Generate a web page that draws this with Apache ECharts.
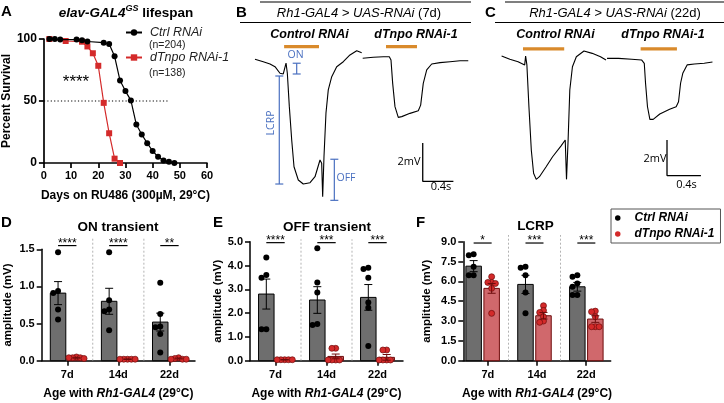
<!DOCTYPE html>
<html>
<head>
<meta charset="utf-8">
<script src="https://cdn.jsdelivr.net/npm/echarts@6/dist/echarts.min.js"></script>
<style>
  html, body { margin: 0; background: #fff; }
  #main { width: 724px; height: 403px; }
</style>
</head>
<body>
<div id="main"></div>
<script>
// ---------- data ----------

// A: lifespan (days, percent survival)
const ctrlDays = [2, 4, 6, 12, 14, 16, 22, 24, 26, 28, 30, 32, 34, 36, 38, 40, 42, 44, 46, 48];
const ctrlSurv = [100, 100, 99.5, 99.5, 99, 98, 97, 96, 86, 66.5, 58, 50.5, 31, 23, 16, 9.7, 5, 2, 1, 0];
const rnaiDays = [2, 8, 14, 16, 18, 20, 22, 24, 26, 28];
const rnaiSurv = [100, 98.4, 97.8, 94, 88.5, 78.4, 48.5, 24, 3.5, 0];

// B / C: ERG traces, [time s, mV]
const bCtrlTrace = [[0.065,-1.0],[0.173,-1.13],[0.261,-1.25],[0.326,-1.39],[0.391,-1.73],[0.434,-1.77],[0.457,-1.82],[0.470,-1.2],[0.487,-1.73],[0.513,-3.47],[0.544,-5.21],[0.574,-6.6],[0.630,-7.29],[0.695,-7.5],[0.783,-7.43],[0.848,-7.12],[0.913,-6.25],[0.935,-6.42],[0.948,-8.16],[0.965,-6.08],[0.991,-3.8],[1.021,-2.6],[1.066,-1.91],[1.131,-1.39],[1.217,-1.13],[1.304,-0.78],[1.392,-0.56],[1.457,-0.66]];
const bRnaiTrace = [[1.470,-0.95],[1.608,-0.90],[1.739,-0.87],[1.817,-0.87],[1.839,-1.04],[1.861,-2.26],[1.891,-3.47],[1.934,-4.03],[1.979,-3.99],[2.087,-3.82],[2.195,-3.68],[2.226,-3.39],[2.260,-2.26],[2.305,-1.56],[2.370,-1.25],[2.478,-1.18],[2.609,-1.13],[2.739,-1.08],[2.847,-1.08]];
const cCtrlTrace = [[0.078,-0.9],[0.175,-1.08],[0.272,-1.22],[0.350,-1.40],[0.361,-0.90],[0.376,-1.40],[0.400,-3.75],[0.428,-6.18],[0.455,-7.49],[0.486,-7.83],[0.524,-7.68],[0.603,-7.12],[0.679,-6.56],[0.777,-5.96],[0.828,-5.62],[0.843,-7.83],[0.862,-5.62],[0.882,-2.81],[0.913,-1.50],[0.959,-0.94],[1.049,-0.62],[1.146,-0.75],[1.244,-0.94],[1.309,-1.12]];
const cRnaiTrace = [[1.321,-1.03],[1.457,-1.03],[1.612,-1.08],[1.728,-1.12],[1.760,-1.31],[1.775,-2.43],[1.798,-3.75],[1.826,-4.46],[1.865,-4.46],[1.943,-4.16],[2.059,-3.89],[2.136,-3.75],[2.164,-3.47],[2.188,-2.43],[2.214,-1.87],[2.265,-1.40],[2.351,-1.35],[2.467,-1.31],[2.564,-1.24]];
const bStim = [[0.445, 0.90], [1.774, 2.178]];   // light on/off, s
const cStim = [[0.330, 0.816], [1.717, 2.145]];
const bScaleAt = [2.253, -5.36];
const cScaleAt = [2.028, -5.62];
const scaleSec = 0.4, scaleMv = 2;
// ON, LCRP, OFF brackets on the 7d control trace: [t, from mV, to mV]
const bBrackets = [[0.609, -1.21, -1.77], [0.382, -1.875, -7.5], [1.10, -6.21, -8.35]];

// D-F: amplitudes (mV)
const ages = ['7d', '14d', '22d'];
const onCtrlMean = [0.91, 0.80, 0.52];
const onCtrlSem = [0.155, 0.175, 0.12];
const onRnaiMean = [0.04, 0.02, 0.03];
const onRnaiSem = [0.006, 0.004, 0.006];
const onCtrlPts = [[1.46, 0.94, 0.91, 0.69, 0.555], [1.46, 0.815, 0.69, 0.667, 0.41], [1.05, 0.63, 0.46, 0.45, 0.36, 0.11]];
const onRnaiPts = [[0.05, 0.04, 0.04, 0.04, 0.03], [0.02, 0.02, 0.02, 0.02, 0.02], [0.04, 0.03, 0.02, 0.02, 0.02]];
const onSig = ['****', '****', '**'];

const offCtrlMean = [2.80, 2.55, 2.66];
const offCtrlSem = [0.63, 0.56, 0.54];
const offRnaiMean = [0.04, 0.18, 0.14];
const offRnaiSem = [0.01, 0.1, 0.12];
const offCtrlPts = [[4.34, 3.6, 3.49, 1.32, 1.32], [4.72, 3.29, 2.87, 1.5, 1.54], [3.91, 3.85, 3.49, 2.45, 2.23, 0.62]];
const offRnaiPts = [[0.04, 0.04, 0.04, 0.04, 0.04], [0.52, 0.52, 0.03, 0.03, 0.03, 0.03], [0.45, 0.45, 0.03, 0.03, 0.03, 0.03]];
const offSig = ['****', '***', '***'];

const lcrpCtrlMean = [7.15, 5.77, 5.59];
const lcrpCtrlSem = [0.42, 0.69, 0.33];
const lcrpRnaiMean = [5.47, 3.40, 3.15];
const lcrpRnaiSem = [0.37, 0.25, 0.25];
const lcrpCtrlPts = [[8.06, 7.98, 7.10, 6.47, 6.47], [7.10, 7.03, 6.47, 5.16, 3.58], [6.47, 6.35, 5.84, 5.6, 4.96, 4.96]];
const lcrpRnaiPts = [[6.35, 5.92, 5.92, 5.84, 5.47, 3.58], [4.16, 3.80, 3.65, 3.32, 3.00, 2.90], [3.75, 3.70, 3.32, 2.57, 2.57, 2.57]];
const lcrpSig = ['*', '***', '***'];

// ---------- styling ----------
const FONT = 'Arial, "Liberation Sans", Helvetica, sans-serif';
const FONT2 = '"Open Sans", "Noto Sans", sans-serif';
const RED = '#d42a2a';
const RED_BAR = '#d0686c';
const RED_EDGE = '#6e0c0c';
const GRAY_BAR = '#6e6e6e';
const ORANGE = '#d98a2b';
const BLUE = '#4a70c0';

const myChart = echarts.init(document.getElementById('main'));

// simple beeswarm: returns x offsets in px
function swarm(vals, yPx, minDist) {
  const placed = [];
  const offs = new Array(vals.length).fill(0);
  const order = vals.map((v, i) => i).sort((a, b) => vals[b] - vals[a]);
  order.forEach(i => {
    const y = vals[i] * yPx;
    for (let k = 0; k < 30; k++) {
      const cand = k === 0 ? 0 : (k % 2 ? -1 : 1) * Math.ceil(k / 2) * minDist * 0.5;
      if (placed.every(p => Math.hypot(p[0] - cand, p[1] - y) >= minDist)) {
        offs[i] = cand;
        break;
      }
    }
    placed.push([offs[i], y]);
  });
  return offs;
}

function txt(text, x, y, font, align, vAlign, fill) {
  return {
    type: 'text', x: x, y: y, silent: true,
    style: { text: text, x: 0, y: 0, font: font, textAlign: align || 'center', textVerticalAlign: vAlign || 'middle', fill: fill || '#000' }
  };
}

// bar + dots panel (D, E, F)
function barPanel(p) {
  const series = [];
  const off = p.offPx / p.catPx;
  const yPx = p.gridH / p.yMax;

  // dashed separators
  series.push({
    type: 'custom', xAxisIndex: p.xVal, yAxisIndex: p.y, clip: false, silent: true, z: 1,
    data: [[1, 0], [2, 0]],
    renderItem: (params, api) => {
      const a = api.coord([api.value(0), 0]);
      const b = api.coord([api.value(0), p.sepTop]);
      return { type: 'line', shape: { x1: a[0], y1: a[1], x2: b[0], y2: b[1] },
        style: { stroke: '#a0a0a0', lineWidth: 0.8, lineDash: [2, 2] } };
    }
  });

  const groups = [
    { mean: p.ctrlMean, sem: p.ctrlSem, pts: p.ctrlPts, side: -1, fill: GRAY_BAR, edge: '#000', name: 'ctrl', dot: '#000', dotEdge: '#000', err: '#000', gap: 4.8 },
    { mean: p.rnaiMean, sem: p.rnaiSem, pts: p.rnaiPts, side: 1, fill: RED_BAR, edge: RED_EDGE, name: 'rnai', dot: RED, dotEdge: RED_EDGE, err: RED_EDGE, gap: 3.8 }
  ];

  groups.forEach(g => {
    // bars
    series.push({
      type: 'custom', xAxisIndex: p.xVal, yAxisIndex: p.y, silent: true, z: 2,
      data: g.mean.map((m, i) => [i, m]),
      renderItem: (params, api) => {
        const xc = api.value(0) + 0.5 + g.side * off;
        const base = api.coord([xc, 0]);
        const top = api.coord([xc, api.value(1)]);
        return { type: 'rect',
          shape: { x: base[0] - p.barW / 2, y: top[1], width: p.barW, height: base[1] - top[1] },
          style: { fill: g.fill, stroke: g.edge, lineWidth: 1 } };
      }
    });
    // dots
    const dots = [];
    g.pts.forEach((vals, i) => {
      const offs = swarm(vals, yPx, g.gap);
      vals.forEach((v, j) => dots.push([i + 0.5 + g.side * off + offs[j] / p.catPx, v]));
    });
    series.push({
      type: 'scatter', name: g.name, xAxisIndex: p.xVal, yAxisIndex: p.y, silent: true, z: 3,
      symbol: 'circle', symbolSize: 6, data: dots,
      itemStyle: { color: g.dot, borderColor: g.dotEdge, borderWidth: g.side > 0 ? 0.7 : 0, opacity: 1 }
    });
    // error bars (mean ± SEM)
    series.push({
      type: 'custom', xAxisIndex: p.xVal, yAxisIndex: p.y, silent: true, z: 4,
      data: g.mean.map((m, i) => [i, m, g.sem[i]]),
      renderItem: (params, api) => {
        const xc = api.value(0) + 0.5 + g.side * off;
        const m = api.value(1), s = api.value(2);
        const hi = api.coord([xc, m + s]);
        const lo = api.coord([xc, m - s]);
        const c = 4;
        const st = { stroke: g.err, lineWidth: 1 };
        return { type: 'group', children: [
          { type: 'line', shape: { x1: hi[0], y1: hi[1], x2: lo[0], y2: lo[1] }, style: st },
          { type: 'line', shape: { x1: hi[0] - c, y1: hi[1], x2: hi[0] + c, y2: hi[1] }, style: st },
          { type: 'line', shape: { x1: lo[0] - c, y1: lo[1], x2: lo[0] + c, y2: lo[1] }, style: st }
        ] };
      }
    });
  });

  // significance
  series.push({
    type: 'custom', xAxisIndex: p.xVal, yAxisIndex: p.y, clip: false, silent: true, z: 5,
    data: p.sig.map((s, i) => [i, 0]),
    renderItem: (params, api) => {
      const i = api.value(0);
      const a = api.coord([i + 0.5 - off, p.sigY]);
      const b = api.coord([i + 0.5 + off, p.sigY]);
      return { type: 'group', children: [
        { type: 'line', shape: { x1: a[0], y1: a[1], x2: b[0], y2: b[1] }, style: { stroke: '#000', lineWidth: 1.2 } },
        { type: 'text', style: { text: p.sig[i], x: (a[0] + b[0]) / 2, y: a[1] - 2, font: '12px ' + FONT,
          textAlign: 'center', textVerticalAlign: 'middle', align: 'center', verticalAlign: 'middle', fill: '#000' } }
      ] };
    }
  });
  return series;
}

const axisLineStyle = { color: '#000', width: 1.5 };
const tickLabel = { color: '#000', fontFamily: FONT, fontWeight: 'bold', fontSize: 11 };
const ageName = '{n|Age with }{i|Rh1-GAL4}{n| (29°C)}';
const ageNameStyle = {
  color: '#000',
  rich: {
    n: { fontFamily: FONT, fontWeight: 'bold', fontSize: 12, color: '#000' },
    i: { fontFamily: FONT, fontWeight: 'bold', fontStyle: 'italic', fontSize: 12, color: '#000' }
  }
};
const ampName = { color: '#000', fontFamily: FONT, fontWeight: 'bold', fontSize: 11.5 };

function catAxis(gridIndex) {
  return {
    type: 'category', gridIndex: gridIndex, data: ages, boundaryGap: true,
    axisLine: { show: true, lineStyle: axisLineStyle },
    axisTick: { show: true, alignWithLabel: true, length: 5, lineStyle: { width: 1.5, color: '#000' } },
    axisLabel: Object.assign({ margin: 9 }, tickLabel),
    splitLine: { show: false },
    name: ageName, nameLocation: 'middle', nameGap: 27, nameTextStyle: ageNameStyle
  };
}
function ampAxis(gridIndex, max, interval, gap) {
  return {
    type: 'value', gridIndex: gridIndex, min: 0, max: max, interval: interval,
    axisLine: { show: true, lineStyle: axisLineStyle },
    axisTick: { show: true, length: 5, lineStyle: { width: 1.5, color: '#000' } },
    axisLabel: Object.assign({ margin: 7, formatter: v => v.toFixed(1) }, tickLabel),
    splitLine: { show: false },
    name: 'amplitude (mV)', nameLocation: 'middle', nameGap: gap, nameTextStyle: ampName
  };
}
function hiddenAxis(gridIndex, min, max) {
  return { type: 'value', gridIndex: gridIndex, min: min, max: max, show: false, splitLine: { show: false } };
}

const traceLine = { color: '#000', width: 1.1 };
function traceSeries(axis, data) {
  return { type: 'line', xAxisIndex: axis, yAxisIndex: axis, data: data, showSymbol: false, silent: true,
    lineStyle: traceLine, z: 3 };
}
function stimSeries(axis, stim, level) {
  return stim.map(s => ({ type: 'line', xAxisIndex: axis, yAxisIndex: axis, silent: true, showSymbol: false,
    data: [[s[0], level], [s[1], level]], lineStyle: { color: ORANGE, width: 3.2 }, z: 2 }));
}
function scaleSeries(axis, at) {
  return { type: 'line', xAxisIndex: axis, yAxisIndex: axis, silent: true, showSymbol: false,
    data: [[at[0], at[1]], [at[0], at[1] - scaleMv], [at[0] + scaleSec, at[1] - scaleMv]],
    lineStyle: { color: '#000', width: 1.3 }, z: 2 };
}

const series = [
  // A
  { type: 'line', name: 'dTnpo RNAi-1', xAxisIndex: 0, yAxisIndex: 0, data: rnaiDays.map((d, i) => [d, rnaiSurv[i]]),
    symbol: 'rect', symbolSize: 6, itemStyle: { color: RED }, lineStyle: { color: RED, width: 1.2 }, silent: true, z: 2 },
  { type: 'line', name: 'Ctrl RNAi', xAxisIndex: 0, yAxisIndex: 0, data: ctrlDays.map((d, i) => [d, ctrlSurv[i]]),
    symbol: 'circle', symbolSize: 6, itemStyle: { color: '#000' }, lineStyle: { color: '#000', width: 1.2 }, silent: true, z: 3 },
  { type: 'line', xAxisIndex: 0, yAxisIndex: 0, data: [[0, 50], [45.5, 50]], showSymbol: false, silent: true,
    lineStyle: { color: '#000', width: 1.2, type: [1.2, 2.2] }, z: 1 },
  // B
  traceSeries(1, bCtrlTrace), traceSeries(1, bRnaiTrace),
  ...stimSeries(1, bStim, -0.35),
  scaleSeries(1, bScaleAt),
  { type: 'custom', xAxisIndex: 1, yAxisIndex: 1, clip: false, silent: true, z: 4, data: bBrackets,
    renderItem: (params, api) => {
      const a = api.coord([api.value(0), api.value(1)]);
      const b = api.coord([api.value(0), api.value(2)]);
      const st = { stroke: BLUE, lineWidth: 1.2 };
      return { type: 'group', children: [
        { type: 'line', shape: { x1: a[0], y1: a[1], x2: b[0], y2: b[1] }, style: st },
        { type: 'line', shape: { x1: a[0] - 4, y1: a[1], x2: a[0] + 4, y2: a[1] }, style: st },
        { type: 'line', shape: { x1: b[0] - 4, y1: b[1], x2: b[0] + 4, y2: b[1] }, style: st }
      ] };
    } },
  // C
  traceSeries(2, cCtrlTrace), traceSeries(2, cRnaiTrace),
  ...stimSeries(2, cStim, -0.5),
  scaleSeries(2, cScaleAt),
  // D, E, F
  ...barPanel({ xVal: 4, y: 3, yMax: 1.5, gridH: 111.4, catPx: 51.1, offPx: 9.2, barW: 15.5,
    ctrlMean: onCtrlMean, ctrlSem: onCtrlSem, rnaiMean: onRnaiMean, rnaiSem: onRnaiSem,
    ctrlPts: onCtrlPts, rnaiPts: onRnaiPts, sig: onSig, sigY: 1.55, sepTop: 1.67 }),
  ...barPanel({ xVal: 6, y: 4, yMax: 5, gridH: 119, catPx: 51, offPx: 9.2, barW: 15.5,
    ctrlMean: offCtrlMean, ctrlSem: offCtrlSem, rnaiMean: offRnaiMean, rnaiSem: offRnaiSem,
    ctrlPts: offCtrlPts, rnaiPts: offRnaiPts, sig: offSig, sigY: 4.96, sepTop: 5.1 }),
  ...barPanel({ xVal: 8, y: 5, yMax: 9, gridH: 119, catPx: 51.8, offPx: 9, barW: 15.5,
    ctrlMean: lcrpCtrlMean, ctrlSem: lcrpCtrlSem, rnaiMean: lcrpRnaiMean, rnaiSem: lcrpRnaiSem,
    ctrlPts: lcrpCtrlPts, rnaiPts: lcrpRnaiPts, sig: lcrpSig, sigY: 8.9, sepTop: 9.5 })
];

const headerRich = {
  i: { fontFamily: FONT, fontStyle: 'italic', fontSize: 13, fill: '#000', color: '#000' },
  n: { fontFamily: FONT, fontSize: 13, fill: '#000', color: '#000' }
};
const boldItal = 'italic bold 12.5px ' + FONT;
const letterFont = 'bold 15px ' + FONT;
const titleFont = 'bold 13.5px ' + FONT;

const graphic = [
  // A
  txt('A', 1, 12, letterFont, 'left'),
  { type: 'text', x: 126, y: 13, silent: true,
    style: { text: '{i|elav-GAL4}{s|GS}{n| lifespan}', x: 0, y: 0, textAlign: 'center', textVerticalAlign: 'middle',
      rich: {
        i: { fontFamily: FONT, fontWeight: 'bold', fontStyle: 'italic', fontSize: 13.5, fill: '#000' },
        s: { fontFamily: FONT, fontWeight: 'bold', fontStyle: 'italic', fontSize: 9, fill: '#000', padding: [0, 0, 9, 0] },
        n: { fontFamily: FONT, fontWeight: 'bold', fontSize: 13.5, fill: '#000' }
      } } },
  txt('(n=204)', 149, 45.5, '10.5px ' + FONT, 'left', 'middle', '#222'),
  txt('(n=138)', 149, 73, '10.5px ' + FONT, 'left', 'middle', '#222'),
  txt('****', 76, 82, '17px ' + FONT, 'center'),
  // B
  txt('B', 236, 13, letterFont, 'left'),
  { type: 'line', silent: true, shape: { x1: 260, y1: 2, x2: 471, y2: 2 }, style: { stroke: '#000', lineWidth: 1.2 } },
  { type: 'line', silent: true, shape: { x1: 240, y1: 22.5, x2: 471, y2: 22.5 }, style: { stroke: '#000', lineWidth: 1.2 } },
  { type: 'text', x: 359, y: 13.5, silent: true,
    style: { text: '{i|Rh1-GAL4 > UAS-RNAi}{n| (7d)}', x: 0, y: 0, textAlign: 'center', textVerticalAlign: 'middle', rich: headerRich } },
  txt('Control RNAi', 309.5, 34.5, boldItal),
  txt('dTnpo RNAi-1', 416, 34.5, boldItal),
  txt('ON', 295.5, 55, '10.5px ' + FONT2, 'center', 'middle', BLUE),
  { type: 'text', x: 271.5, y: 123, rotation: Math.PI / 2, silent: true,
    style: { text: 'LCRP', x: 0, y: 0, font: '10.5px ' + FONT2, textAlign: 'center', textVerticalAlign: 'middle', fill: BLUE } },
  txt('OFF', 346, 178, '10.5px ' + FONT2, 'center', 'middle', BLUE),
  txt('2mV', 420.5, 162, '11px ' + FONT2, 'right'),
  txt('0.4s', 441, 186.5, '11px ' + FONT2, 'center'),
  // C
  txt('C', 485, 13, letterFont, 'left'),
  { type: 'line', silent: true, shape: { x1: 505, y1: 2, x2: 724, y2: 2 }, style: { stroke: '#000', lineWidth: 1.2 } },
  { type: 'line', silent: true, shape: { x1: 495, y1: 22.5, x2: 724, y2: 22.5 }, style: { stroke: '#000', lineWidth: 1.2 } },
  { type: 'text', x: 615, y: 13.5, silent: true,
    style: { text: '{i|Rh1-GAL4 > UAS-RNAi}{n| (22d)}', x: 0, y: 0, textAlign: 'center', textVerticalAlign: 'middle', rich: headerRich } },
  txt('Control RNAi', 555.5, 34.5, boldItal),
  txt('dTnpo RNAi-1', 663, 34.5, boldItal),
  txt('2mV', 666.5, 158.5, '11px ' + FONT2, 'right'),
  txt('0.4s', 686.5, 184.5, '11px ' + FONT2, 'center'),
  // D E F
  txt('D', 1, 223, letterFont, 'left'),
  txt('ON transient', 118, 227, titleFont),
  txt('E', 213, 223, letterFont, 'left'),
  txt('OFF transient', 327, 227, titleFont),
  txt('F', 416, 223, letterFont, 'left'),
  txt('LCRP', 535.5, 226, titleFont)
];

const option = {
  animation: false,
  backgroundColor: '#fff',
  grid: [
    { left: 43, top: 39, width: 164, height: 124 },
    { left: 250, top: 40, width: 230, height: 161.3 },
    { left: 495, top: 40, width: 231.7, height: 149.5 },
    { left: 41.7, top: 249.3, width: 153.3, height: 111.4 },
    { left: 250, top: 241.7, width: 153, height: 119 },
    { left: 463.3, top: 241.7, width: 147.4, height: 119 }
  ],
  xAxis: [
    { type: 'value', gridIndex: 0, min: 0, max: 60, interval: 10,
      axisLine: { show: true, lineStyle: { color: '#000', width: 1.7 } },
      axisTick: { show: true, length: 5, lineStyle: { width: 1.7, color: '#000' } },
      axisLabel: Object.assign({ margin: 7 }, tickLabel),
      splitLine: { show: false },
      name: 'Days on RU486 (300µM, 29°C)', nameLocation: 'middle', nameGap: 27,
      nameTextStyle: { color: '#000', fontFamily: FONT, fontWeight: 'bold', fontSize: 12 } },
    hiddenAxis(1, 0, 3),
    hiddenAxis(2, 0, 2.7),
    catAxis(3), hiddenAxis(3, 0, 3),
    catAxis(4), hiddenAxis(4, 0, 3),
    catAxis(5), hiddenAxis(5, 0.127, 2.97)
  ],
  yAxis: [
    { type: 'value', gridIndex: 0, min: 0, max: 100, interval: 50,
      axisLine: { show: true, lineStyle: { color: '#000', width: 1.7 } },
      axisTick: { show: true, length: 5, lineStyle: { width: 1.7, color: '#000' } },
      axisLabel: Object.assign({ margin: 7 }, tickLabel, { fontSize: 12 }),
      splitLine: { show: false },
      name: 'Percent Survival', nameLocation: 'middle', nameGap: 25,
      nameTextStyle: { color: '#000', fontFamily: FONT, fontWeight: 'bold', fontSize: 12 } },
    hiddenAxis(1, -8.4, 0),
    hiddenAxis(2, -8.4, 0),
    ampAxis(3, 1.5, 0.5, 27.5),
    ampAxis(4, 5, 1, 16),
    ampAxis(5, 9, 1.5, 30)
  ],
  legend: [
    { data: ['Ctrl RNAi'], left: 125, top: 26, padding: 0, itemWidth: 16, itemHeight: 8, selectedMode: false,
      textStyle: { fontFamily: FONT, fontStyle: 'italic', fontSize: 12.5, color: '#222', padding: [0, 0, 0, 3] } },
    { data: ['dTnpo RNAi-1'], left: 125, top: 51, padding: 0, itemWidth: 16, itemHeight: 8, selectedMode: false,
      textStyle: { fontFamily: FONT, fontStyle: 'italic', fontSize: 12.5, color: '#222', padding: [0, 0, 0, 3] } },
    { data: ['ctrl', 'rnai'], orient: 'vertical', left: 611, top: 209, padding: [3, 6, 3, 4], itemGap: 4,
      icon: 'circle', itemWidth: 5.5, itemHeight: 5.5, selectedMode: false,
      itemStyle: { borderWidth: 0 },
      borderColor: '#555', borderWidth: 1,
      formatter: name => ({ ctrl: 'Ctrl RNAi', rnai: 'dTnpo RNAi-1' })[name],
      textStyle: { fontFamily: FONT, fontStyle: 'italic', fontWeight: 'bold', fontSize: 12, color: '#000', padding: [0, 0, 0, 9] } }
  ],
  graphic: graphic,
  series: series
};

myChart.setOption(option);
</script>
</body>
</html>
